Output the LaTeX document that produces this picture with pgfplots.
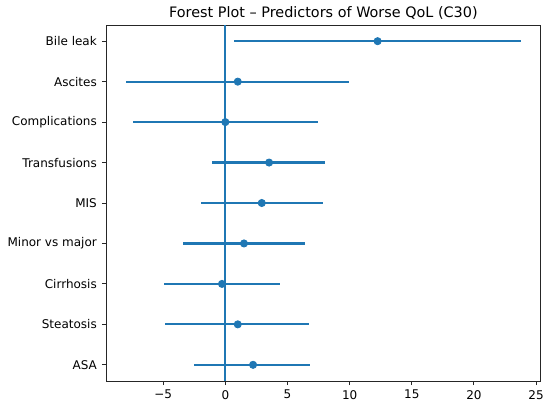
\documentclass[border=0pt]{standalone}
\usepackage{pgfplots}
\pgfplotsset{compat=1.18}
\usepackage{pgfplotstable}
\usepackage{fontspec}
\setmainfont{DejaVu Sans}
\definecolor{mplblue}{HTML}{1F77B4}
\pgfplotstableread{
y est lo hi
8 12.25 0.71 23.77
7 1.00 -8.01 9.96
6 0.00 -7.42 7.49
5 3.52 -1.05 8.05
4 2.93 -1.98 7.84
3 1.50 -3.40 6.42
2 -0.27 -4.96 4.38
1 1.00 -4.83 6.76
0 2.23 -2.54 6.84
}\datatable
\begin{document}
\fontsize{12bp}{14bp}\selectfont
\begin{tikzpicture}
\useasboundingbox (0,0) rectangle (550bp,404bp);
\begin{axis}[
  at={(106bp,23bp)}, anchor=south west,
  scale only axis, width=434.7bp, height=356bp,
  xmin=-9.6, xmax=25.37, ymin=-0.4, ymax=8.4,
  xtick={-5,0,5,10,15,20,25},
  xticklabels={−5,0,5,10,15,20,25},
  ytick={0,1,2,3,4,5,6,7,8},
  yticklabels={ASA,Steatosis,Cirrhosis,Minor vs major,MIS,Transfusions,Complications,Ascites,Bile leak},
  tick pos=left, tick align=outside,
  major tick length=4.2bp,
  tick style={line width=0.95bp, black!85},
  axis line style={line width=0.95bp, black!85},
  ticklabel style={font=\fontsize{12bp}{14bp}\selectfont, inner sep=0pt},
  xticklabel style={anchor=north, yshift=-4.8bp},
  yticklabel style={anchor=east, xshift=-4.8bp},
  clip=false,
]
\addplot[mplblue, line width=1.9bp] coordinates {(0,-0.4) (0,8.4)};
\addplot[mplblue, line width=2.1bp, only marks, mark=*, mark size=3.6bp,
  mark options={fill=mplblue, draw=mplblue, line width=0.8bp, solid},
  error bars/.cd, x dir=both, x explicit, error mark=none,
  error bar style={line width=2.1bp, mplblue}]
  table[x=est, y=y, x error plus expr=\thisrow{hi}-\thisrow{est}, x error minus expr=\thisrow{est}-\thisrow{lo}] {\datatable};
\end{axis}
\node[anchor=base, inner sep=0pt, font=\fontsize{14.4bp}{16bp}\selectfont] at (323.4bp,386.5bp) {Forest Plot – Predictors of Worse QoL (C30)};
\end{tikzpicture}
\end{document}
